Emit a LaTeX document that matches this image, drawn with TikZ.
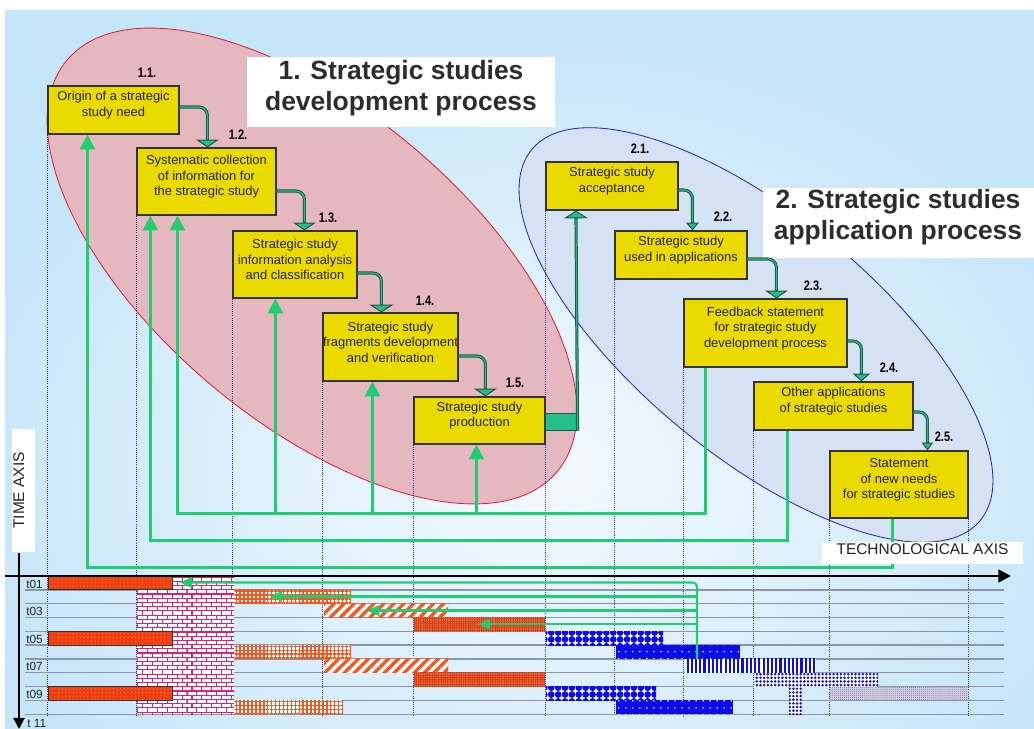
\documentclass[tikz,border=0pt]{standalone}
\usepackage{graphicx}
\usepackage{fontspec}
\setmainfont{Liberation Sans}
\usetikzlibrary{arrows.meta,calc,fit,patterns,patterns.meta}
\definecolor{bgblue}{RGB}{197,229,249}
\definecolor{bgglow}{RGB}{244,250,254}
\definecolor{redfill}{RGB}{229,183,190}
\definecolor{redline}{RGB}{215,35,60}
\definecolor{bluefill}{RGB}{212,226,243}
\definecolor{blueline}{RGB}{40,40,175}
\definecolor{yboxc}{RGB}{234,218,0}
\definecolor{fbgreen}{RGB}{32,205,112}
\definecolor{cdark}{RGB}{32,88,70}
\definecolor{cteal}{RGB}{36,190,140}
\definecolor{txt}{RGB}{35,35,35}
\definecolor{ttl}{RGB}{45,45,45}
\definecolor{gridgray}{RGB}{138,150,166}
\definecolor{dotblue}{RGB}{45,45,170}
\definecolor{orred}{RGB}{240,62,15}
\definecolor{orlight}{RGB}{255,160,110}
\definecolor{orange2}{RGB}{244,88,34}
\definecolor{ordense}{RGB}{236,102,48}
\definecolor{ordark}{RGB}{214,66,28}
\definecolor{magbrick}{RGB}{226,30,112}
\definecolor{pblue}{RGB}{12,12,232}
\definecolor{lavc}{RGB}{212,207,230}
\definecolor{lavdot}{RGB}{128,118,160}
\pgfdeclarepatternformonly{mybricks}{\pgfpoint{-0.5pt}{-0.5pt}}{\pgfpoint{7.5pt}{6.5pt}}{\pgfpoint{7pt}{6pt}}{%
  \pgfsetlinewidth{0.8pt}%
  \pgfpathmoveto{\pgfpoint{-0.5pt}{0pt}}\pgfpathlineto{\pgfpoint{7.5pt}{0pt}}%
  \pgfpathmoveto{\pgfpoint{-0.5pt}{3pt}}\pgfpathlineto{\pgfpoint{7.5pt}{3pt}}%
  \pgfpathmoveto{\pgfpoint{0pt}{0pt}}\pgfpathlineto{\pgfpoint{0pt}{3pt}}%
  \pgfpathmoveto{\pgfpoint{3.5pt}{3pt}}\pgfpathlineto{\pgfpoint{3.5pt}{6pt}}%
  \pgfusepath{stroke}}
\newcommand\gbar[4]{\path[#1] (#2,{576+13.82*(#4-1)}) rectangle (#3,{576+13.82*(#4)});}
\newcommand\numlbl[1]{\scalebox{0.8}[1]{#1}}
\begin{document}
\begin{tikzpicture}[x=0.025cm,y=-0.025cm,
  ybox/.style={draw=black!80, line width=0.8pt, fill=yboxc, inner sep=0pt, align=center, text=txt, font=\fontsize{9.2}{11}\selectfont},
  num/.style={inner sep=0pt, text=black, font=\fontsize{9.8}{10}\selectfont\bfseries},
  ttlstyle/.style={align=center, text=ttl, inner sep=0pt, font=\fontsize{18.8}{22}\selectfont\bfseries},
  conn/.style={draw=cdark, line width=2.2pt, rounded corners=6pt, -{Triangle[width=#1,length=5.5pt,fill=cteal,line width=0.7pt]}, postaction={draw=cteal, line width=0.8pt, -, shorten >=6pt}},
  conn/.default=16pt,
  fb/.style={draw=fbgreen, line width=2.2pt, -{Triangle[width=10.5pt,length=10.5pt]}},
  cg/.style={draw=fbgreen, line width=1.5pt, -{Triangle[width=7.5pt,length=8.5pt]}},
  vdot/.style={draw=dotblue, line width=0.5pt, densely dotted},
  tl/.style={inner sep=0pt, text=txt, font=\fontsize{8.4}{9}\selectfont},
  odot/.style={preaction={fill=orred}, pattern={Dots[radius=0.35pt,distance=2.6pt]}, pattern color=orlight},
  brick/.style={preaction={fill=white}, pattern=mybricks, pattern color=magbrick},
  ogrid/.style={preaction={fill=white}, pattern={Hatch[angle=0,distance=2.8pt,line width=1pt]}, pattern color=orange2},
  ostripe/.style={preaction={fill=white}, pattern={Lines[angle=45,distance=5pt,line width=2.4pt]}, pattern color=orange2},
  odense/.style={preaction={fill=ordense}, pattern={Hatch[angle=0,distance=1.6pt,line width=0.4pt]}, pattern color=ordark},
  bbub/.style={preaction={fill=white}, pattern={Dots[radius=2.4pt,distance=4.9pt]}, pattern color=pblue},
  bsol/.style={preaction={fill=pblue}, pattern={Dots[radius=0.6pt,distance=5pt]}, pattern color=white},
  bvert/.style={preaction={fill=white}, pattern={Lines[angle=90,distance=3pt,line width=1.5pt]}, pattern color=pblue},
  bdot/.style={preaction={fill=white}, pattern={Dots[radius=1pt,distance=2.6pt]}, pattern color=pblue},
  lav/.style={preaction={fill=lavc}, pattern={Dots[radius=0.35pt,distance=1.4pt]}, pattern color=lavdot}
]
\useasboundingbox (0,0) rectangle (1034,729);
% background
\fill[white] (0,0) rectangle (1034,729);
\fill[bgblue] (5,10) rectangle (1034,729);
\begin{scope}
  \clip (5,10) rectangle (1034,729);
  \shade[inner color=bgglow, outer color=bgblue] (540,470) ellipse [x radius=600, y radius=440];
\end{scope}
% process ellipses
\filldraw[fill=redfill, draw=redline, line width=0.6pt, rotate around={-40:(312,266)}] (312,266) ellipse [x radius=320, y radius=156];
\filldraw[fill=bluefill, draw=blueline, line width=0.6pt, rotate around={-39.6:(756,335)}] (756,335) ellipse [x radius=291, y radius=120];
% titles
\fill[white] (247,57) rectangle (555,127);
\node[ttlstyle] (title1) at (401,88) {1. Strategic studies\\development process};
\fill[white] (763,188) rectangle (1034,258);
\node[ttlstyle] (title2) at (898,217) {2. Strategic studies\\application process};
% process boxes
\node[ybox, fit={(48,86)(179,134)}] (b11) {Origin of a strategic\\study need};
\node[ybox, fit={(137,148)(276,215)}] (b12) {Systematic collection\\of information for\\the strategic study};
\node[ybox, fit={(233,231)(357,298)}] (b13) {Strategic study\\information analysis\\and classification};
\node[ybox, fit={(323,313)(458,381)}] (b14) {Strategic study\\fragments development\\and verification};
\node[ybox, fit={(414,397)(545,444)}] (b15) {Strategic study\\production};
\node[ybox, fit={(546,162)(678,210)}] (b21) {Strategic study\\acceptance};
\node[ybox, fit={(615,231)(747,279)}] (b22) {Strategic study\\used in applications};
\node[ybox, fit={(684,299)(847,367)}] (b23) {Feedback statement\\for strategic study\\development process};
\node[ybox, fit={(754,382)(913,430)}] (b24) {Other applications\\of strategic studies};
\node[ybox, fit={(830,451)(968,518)}] (b25) {Statement\\of new needs\\for strategic studies};
% step numbers
\node[num] (n11) at (147,73) {\numlbl{1.1.}};
\node[num] (n12) at (238,135) {\numlbl{1.2.}};
\node[num] (n13) at (328,218) {\numlbl{1.3.}};
\node[num] (n14) at (425,301) {\numlbl{1.4.}};
\node[num] (n15) at (515,383) {\numlbl{1.5.}};
\node[num] (n21) at (640,149) {\numlbl{2.1.}};
\node[num] (n22) at (723,217) {\numlbl{2.2.}};
\node[num] (n23) at (813,286) {\numlbl{2.3.}};
\node[num] (n24) at (889,368) {\numlbl{2.4.}};
\node[num] (n25) at (944,437) {\numlbl{2.5.}};
% vertical dotted time lines
\coordinate (chbot) at (0,716);
\foreach \n in {b11,b12,b13,b14,b15,b21,b22,b23,b24,b25}{\draw[vdot] (\n.south west) -- (\n.south west |- chbot);}
\draw[vdot] (b25.south east) -- (b25.south east |- chbot);
% chart rows
\foreach \i in {1,...,10}{\draw[gridgray, line width=1pt] (25,{576+13.82*\i}) -- (1004,{576+13.82*\i});}
\path[brick] (137,576) rectangle (234,{576+13.82*10});
\gbar{odot}{48}{172}{1}\gbar{odot}{48}{172}{5}\gbar{odot}{48}{172}{9}
\foreach \i in {1,5,9}{\draw[black!80, line width=0.6pt] (48,{576+13.82*(\i-1)}) rectangle (172,{576+13.82*\i});}
\gbar{ogrid}{234}{351}{2}\gbar{ogrid}{234}{351}{6}\gbar{ogrid}{234}{343}{10}
\gbar{ostripe}{324}{448}{3}\gbar{ostripe}{324}{448}{7}
\gbar{odense}{414}{545}{4}\gbar{odense}{414}{545}{8}
\gbar{bbub}{546}{663}{5}\gbar{bbub}{546}{656}{9}
\gbar{bsol}{616}{740}{6}\gbar{bsol}{616}{733}{10}
\gbar{bvert}{685}{816}{7}
\gbar{bdot}{754}{878}{8}
\path[bdot] (789,{576+13.82*8}) rectangle (802,{576+13.82*10});
\gbar{lav}{830}{968}{9}
% chart feedback arrows
\coordinate (cgsrc) at (697,659);
\coordinate (cg1) at (180,582.5);
\coordinate (cg2) at (270,596.5);
\coordinate (cg3) at (367,610.5);
\coordinate (cg4) at (478,624);
\draw[cg, rounded corners=3pt] (cgsrc) |- (cg1);
\foreach \k in {2,3,4}{\draw[cg] (cgsrc |- cg\k) -- (cg\k);}
% process connectors
\draw[conn] ($(b11.east)+(0,-3)$) -| ($(b12.north west)+(71,0)$);
\draw[conn] ($(b12.east)+(0,9.5)$) -| ($(b13.north west)+(72,0)$);
\draw[conn=17pt] ($(b13.east)+(0,8.5)$) -| ($(b14.north west)+(59,0)$);
\draw[conn] ($(b14.east)+(0,9)$) -| ($(b15.north west)+(72,0)$);
\filldraw[fill=cteal, draw=cdark, line width=0.9pt] ($(b15.south east)+(0,-31)$) rectangle ($(b15.south east)+(33,-14)$);
\draw[conn=17pt] ($(b15.south east)+(32,-14)$) -- ($(b21.south west)+(30.5,0)$);
\draw[conn=9pt] ($(b21.east)+(0,4)$) -| ($(b22.north west)+(78,0)$);
\draw[conn] ($(b22.east)+(0,4)$) -| ($(b23.north west)+(93,0)$);
\draw[conn=12pt] ($(b23.east)+(0,8)$) -| ($(b24.north west)+(108,0)$);
\draw[conn=8pt] ($(b24.east)+(0,6)$) -| ($(b25.north west)+(98,0)$);
% feedback lines
\draw[fb] ($(b25.south west)+(63,0)$) -- ++(0,49) -| ($(b11.south west)+(40,0)$);
\draw[fb] ($(b24.south west)+(34,0)$) -- ++(0,110) -| ($(b12.south west)+(14,0)$);
\draw[fb] ($(b23.south west)+(22,0)$) -- ++(0,146) -| ($(b12.south west)+(41,0)$);
\draw[fb] ($(b13.south west)+(43,215)$) -- ($(b13.south west)+(43,0)$);
\draw[fb] ($(b14.south west)+(50,132)$) -- ($(b14.south west)+(50,0)$);
\draw[fb] ($(b15.south west)+(63,69)$) -- ($(b15.south west)+(63,0)$);
% axes
\node[fill=white, inner sep=0pt, minimum width=5.025cm, text height=9pt, text depth=6.6pt, text=txt, font=\fontsize{11}{12}\selectfont] (techax) at (922.5,553) {TECHNOLOGICAL AXIS};
\node[fill=white, rotate=90, inner sep=0pt, minimum width=3.075cm, text height=8.6pt, text depth=7.8pt, text=txt, font=\fontsize{11}{12}\selectfont] (timeax) at (23.5,490.5) {TIME AXIS};
\coordinate (xa0) at (5,576);
\coordinate (xa1) at (1011,576);
\draw[line width=1.9pt, -{Triangle[width=9pt,length=9pt]}] (xa0) -- (xa1);
\coordinate (ta0) at (19,553);
\coordinate (ta1) at (19,729);
\draw[line width=1.5pt, -{Triangle[width=8pt,length=8pt]}] (ta0) -- (ta1);
\foreach \i/\t in {1/t01,3/t03,5/t05,7/t07,9/t09}{\node[tl, anchor=base west] (lab\t) at (26,{576+13.82*\i-1.8}) {\t};}
\node[tl, anchor=base west] (labt11) at (27,727) {t 11};
\end{tikzpicture}
\end{document}
